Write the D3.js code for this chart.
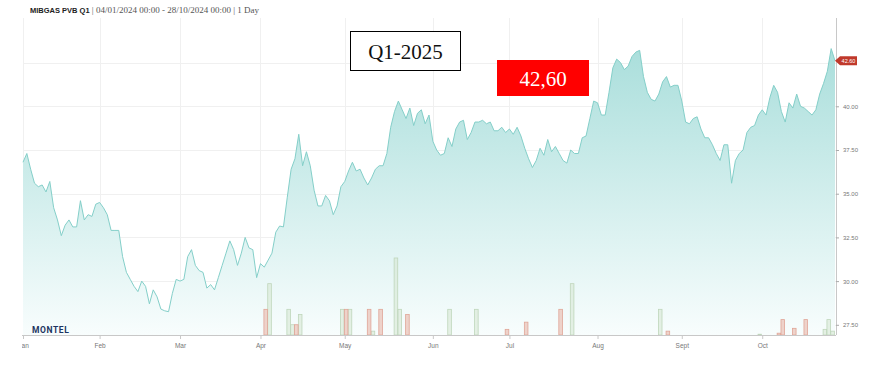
<!DOCTYPE html>
<html><head><meta charset="utf-8">
<script src="https://cdn.jsdelivr.net/npm/d3@7"></script>
<style>
html,body{margin:0;padding:0;background:#fff;}
svg{display:block;}
</style></head><body>
<svg id="c" width="878" height="376"></svg>
<script>
// ---- data ----
const titleMain = "MIBGAS PVB Q1";
const titleSub = " | 04/01/2024 00:00 - 28/10/2024 00:00 | 1 Day";
const startDate = "2024-01-04", endDate = "2024-10-28";
const monthLabels = ["Jan","Feb","Mar","Apr","May","Jun","Jul","Aug","Sept","Oct"];
const yTicks = [27.5, 30, 32.5, 35, 37.5, 40, 42.5];
const price = [
36.8,37.3,36.4,35.6,35.4,35.5,35.1,35.7,34.2,33.5,
32.6,33.2,33.5,33.1,33.1,34.6,33.5,33.8,33.7,34.4,
34.5,34.2,33.8,32.9,32.9,32.9,31.4,30.5,30.1,29.7,
29.4,30.0,29.7,28.7,29.5,29.1,28.4,28.3,28.25,29.3,
30.1,30.0,30.1,31.4,31.8,30.9,30.6,30.5,29.6,29.8,
29.5,30.2,30.9,31.6,32.3,31.8,30.9,31.6,32.5,31.9,
31.8,30.2,31.0,30.8,31.2,31.6,32.8,33.15,33.1,34.8,
36.4,37.0,38.4,36.6,37.4,36.6,35.2,34.3,34.3,34.9,
34.6,33.8,34.3,35.4,35.7,36.3,36.8,36.3,36.4,35.9,
35.5,35.9,36.4,36.6,36.6,37.3,38.8,39.7,40.3,39.8,
39.3,39.9,38.9,39.6,39.8,39.0,39.5,38.0,37.5,37.2,
37.3,38.2,37.7,38.7,39.1,39.2,38.1,38.5,39.1,39.1,
39.2,39.0,39.1,38.6,38.6,38.8,38.5,38.7,38.4,38.8,
38.3,37.6,37.0,36.5,36.9,37.6,37.2,38.1,37.4,37.7,
37.3,36.9,36.75,37.5,37.3,37.3,38.2,38.3,39.3,40.3,
40.2,39.5,39.5,40.8,42.2,42.7,42.5,42.1,42.3,42.85,
43.1,43.2,41.7,40.8,40.4,40.3,40.7,41.4,41.7,41.1,
41.2,41.2,40.3,39.1,39.0,39.3,39.4,38.7,38.2,38.2,
37.8,37.3,36.9,37.8,37.8,35.6,36.9,37.3,37.5,38.5,
38.8,38.9,39.5,39.8,39.5,40.5,41.2,40.8,39.7,39.1,
40.2,39.9,40.7,40.0,39.9,39.7,39.5,39.8,40.7,41.3,
42.0,43.3,42.6
];
// volume bars: [trading-day index, volume]
const volRed = [[63,10],[71,4],[84,10],[90,10],[93,10],[100,8],[126,2.2],[131,5],[140,10],[168,1.5],[197,0.7],[198,6],[201,2.6],[204,6]];
const volGreen = [[64,20],[69,10],[70,4],[72,8],[83,10],[85,10],[91,1.5],[97,30],[98,10],[111,10],[118,10],[143,20],[166,10],[192,0.3],[209,2.2],[210,6],[211,1.5]];
const lastLabel = "42.60";
const boxQ = "Q1-2025";
const boxPrice = "42,60";

// ---- trading days (weekdays) ----
const days = d3.timeDay.range(new Date(startDate+"T00:00:00"), d3.timeDay.offset(new Date(endDate+"T00:00:00"),1))
  .filter(d => d.getDay() !== 0 && d.getDay() !== 6);
const monthStarts = [];
days.forEach((d,i) => { if (i===0 || d.getMonth() !== days[i-1].getMonth()) monthStarts.push(i); });

const svg = d3.select("#c");
const L = 23, R = 835, axisX = 836, T = 18, B = 335;
const x = d3.scaleLinear().domain([0, price.length-1]).range([L, R]);
const y = d3.scaleLinear().domain([26.9, 45]).range([335.3, 18.9]);
const v = d3.scaleLinear().domain([0, 30]).range([B, B-77]);

const defs = svg.append("defs");
const g = defs.append("linearGradient").attr("id","ag").attr("gradientUnits","userSpaceOnUse")
  .attr("x1",0).attr("x2",0).attr("y1",45).attr("y2",B);
g.append("stop").attr("offset",0).attr("stop-color","#a9dedb");
g.append("stop").attr("offset",1).attr("stop-color","#f8fdfd");
defs.append("clipPath").attr("id","xclip").append("rect").attr("x",22).attr("y",-5).attr("width",856).attr("height",40);

// grid
svg.append("g").selectAll("line").data(yTicks).join("line")
  .attr("x1",L).attr("x2",axisX).attr("y1",d=>Math.round(y(d))+0.5).attr("y2",d=>Math.round(y(d))+0.5)
  .attr("stroke","#f0f0f0").attr("stroke-width",1);
svg.append("g").selectAll("line").data(monthStarts).join("line")
  .attr("x1",d=>Math.round(x(d))+0.5).attr("x2",d=>Math.round(x(d))+0.5).attr("y1",T).attr("y2",B)
  .attr("stroke","#f0f0f0").attr("stroke-width",1);

// area + line
const area = d3.area().x((d,i)=>x(i)).y0(B).y1(d=>y(d));
svg.append("path").datum(price).attr("d",area).attr("fill","url(#ag)");
svg.append("path").datum(price).attr("d",d3.line().x((d,i)=>x(i)).y(d=>y(d)))
  .attr("fill","none").attr("stroke","#84cfc9").attr("stroke-width",1);

// volume bars
const bw = 3.6;
svg.append("g").selectAll("rect").data(volGreen).join("rect")
  .attr("x",d=>x(d[0])-0.4).attr("y",d=>v(d[1])).attr("width",bw).attr("height",d=>B-v(d[1]))
  .attr("fill","rgba(215,232,212,0.6)").attr("stroke","#bfd6bb").attr("stroke-width",0.8);
svg.append("g").selectAll("rect").data(volRed).join("rect")
  .attr("x",d=>x(d[0])-0.4).attr("y",d=>v(d[1])).attr("width",bw).attr("height",d=>B-v(d[1]))
  .attr("fill","rgba(235,196,186,0.75)").attr("stroke","#e0a597").attr("stroke-width",0.8);

// axes
const xa = svg.append("g").attr("transform",`translate(0,${B})`).attr("clip-path","url(#xclip)")
  .call(d3.axisBottom(x).tickValues(monthStarts).tickFormat((d,i)=>monthLabels[i]).tickSize(4).tickSizeOuter(0));
xa.select(".domain").attr("stroke","#c8c8c8").attr("d",`M${L-1},0.5H${axisX}`);
xa.selectAll(".tick line").attr("stroke","#c8c8c8");
xa.selectAll("text").attr("fill","#777").attr("font-family","Liberation Sans, Arial, sans-serif").attr("font-size","6.5px").attr("dy","0.9em");

const ya = svg.append("g").attr("transform",`translate(${axisX},0)`)
  .call(d3.axisRight(y).tickValues(yTicks.filter(t=>t<42)).tickFormat(d3.format(".2f")).tickSize(3).tickPadding(4).tickSizeOuter(0));
ya.select(".domain").attr("stroke","#c8c8c8").attr("d",`M0.5,${T}V${B}`);
ya.selectAll(".tick line").attr("stroke","#aaa");
ya.selectAll("text").attr("fill","#777").attr("font-family","Liberation Sans, Arial, sans-serif").attr("font-size","6px");

// last price flag
const ly = y(price[price.length-1]);
svg.append("path").attr("d",`M${axisX-1},${ly} L${axisX+4},${ly-4.5} H${axisX+21} V${ly+4.5} H${axisX+4} Z`).attr("fill","#c0392b");
svg.append("text").attr("x",axisX+12.5).attr("y",ly+2).attr("text-anchor","middle").attr("fill","#fff")
  .attr("font-family","Liberation Sans, Arial, sans-serif").attr("font-size","5.5px").text(lastLabel);

// title
const tt = svg.append("text").attr("x",30).attr("y",13).attr("font-size","7.5px");
tt.append("tspan").attr("font-family","Liberation Sans, Arial, sans-serif").attr("font-weight","bold").attr("fill","#222").text(titleMain);
tt.append("tspan").attr("font-family","Liberation Serif, serif").attr("font-size","9px").attr("fill","#555").text(titleSub);

// logo
svg.append("text").attr("x",32).attr("y",333).attr("font-family","Roboto, sans-serif").attr("font-weight","bold")
  .attr("font-size","8.5px").attr("letter-spacing","0.6px").attr("fill","#1c3461").text("MONTEL");

// annotation boxes
svg.append("rect").attr("x",350.5).attr("y",31.5).attr("width",110).attr("height",39).attr("fill","#fff").attr("stroke","#000").attr("stroke-width",1);
svg.append("text").attr("x",405.5).attr("y",59).attr("text-anchor","middle").attr("font-family","Liberation Serif, serif")
  .attr("font-size","21px").attr("fill","#111").text(boxQ);
svg.append("rect").attr("x",497).attr("y",60).attr("width",92).attr("height",36).attr("fill","#ff0000");
svg.append("text").attr("x",543).attr("y",86).attr("text-anchor","middle").attr("font-family","Liberation Serif, serif")
  .attr("font-size","21px").attr("fill","#fff").text(boxPrice);
</script>
</body></html>
